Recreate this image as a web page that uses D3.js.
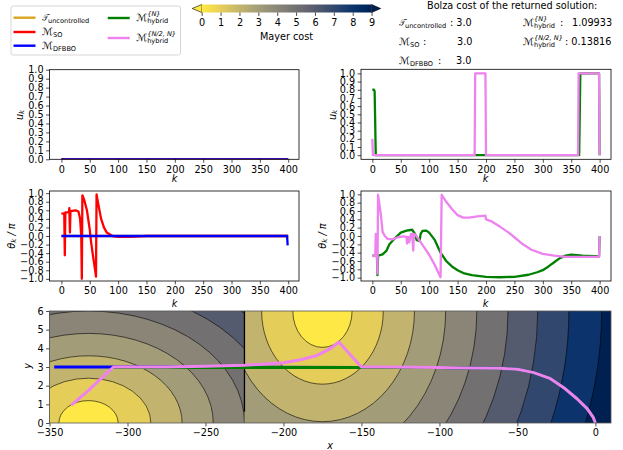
<!DOCTYPE html>
<meta charset="utf-8">
<style>
  html, body { margin: 0; padding: 0; background: #fff; }
  text { font-family: "DejaVu Sans", sans-serif; fill: #000; }
  .tick text { font-size: 9.7px; }
  .domain { display: none; }
  .tick line { stroke: #000; stroke-width: 0.7; }
</style>
<script src="https://cdn.jsdelivr.net/npm/d3@7"></script>
<div id="my_dataviz"></div>

<script>
// tick labels
var kTicks = [0, 50, 100, 150, 200, 250, 300, 350, 400];
var uTicks = [0, 0.1, 0.2, 0.3, 0.4, 0.5, 0.6, 0.7, 0.8, 0.9, 1];
var thetaTicks = [-1, -0.8, -0.6, -0.4, -0.2, 0, 0.2, 0.4, 0.6, 0.8, 1];
var xTicks = [-350, -300, -250, -200, -150, -100, -50, 0];
var yTicks = [0, 1, 2, 3, 4, 5, 6];
var costTicks = [0, 1, 2, 3, 4, 5, 6, 7, 8, 9];

// controls, [k, value]
var uncontrolledU = [[0, 0], [400, 0]];
var soU = [[0, 0], [400, 0]];
var dfbboU = [[0, 0], [400, 0]];
var hybridNU = [[0, 0.8], [3, 0.8], [4, 0.78], [6, 0], [180, 0], [200, 0], [364, 0], [366, 1], [399, 1], [400, 0]];
var hybridN2U = [[0, 0.2], [1, 0], [180, 0], [181, 1], [199, 1], [200, 0], [362, 0], [363, 1], [399, 1], [400, 0]];

// headings, [k, value]
var uncontrolledTheta = [[0, 0], [400, 0]];
var soTheta = [[0, 0.52], [5, 0.53], [6, -0.45], [7, 0.55], [13, 0.55], [14, 0.65], [15, 0.08], [16, 0.58], [25, 0.6],
  [30, 0.57], [33, 0.4], [35, 0], [36, -1], [37, 0.95], [40, 0.85], [45, 0.6], [50, 0.15], [52, -0.1], [55, -0.4],
  [60, -0.85], [61, -0.95], [62, 0.97], [65, 0.75], [70, 0.4], [75, 0.2], [80, 0.08], [90, 0], [100, -0.02],
  [120, -0.02], [140, -0.01], [150, 0], [400, 0]];
var dfbboTheta = [[0, 0], [398, 0], [399, -0.22]];
var hybridNTheta = [[0, -0.47], [8, -0.47], [9, -0.94], [10, -0.47], [18, -0.44], [25, -0.35], [30, -0.2], [40, -0.05],
  [50, 0.08], [60, 0.13], [70, 0.15], [75, 0.05], [78, -0.1], [83, -0.12], [85, 0.05], [88, 0.12], [95, 0.13],
  [100, 0.08], [110, -0.1], [120, -0.4], [130, -0.6], [140, -0.73], [150, -0.82], [160, -0.89], [175, -0.94],
  [200, -0.98], [225, -0.99], [250, -0.98], [275, -0.93], [290, -0.87], [300, -0.82], [310, -0.73], [320, -0.63],
  [330, -0.53], [340, -0.47], [350, -0.45], [370, -0.47], [399, -0.49], [400, 0]];
var hybridN2Theta = [[0, -0.48], [5, -0.48], [6, 0.05], [7, -0.47], [8, -0.1], [9, -0.9], [10, 0.99], [12, 0.8],
  [15, 0.5], [18, 0.1], [22, 0], [27, -0.07], [35, -0.08], [45, -0.03], [55, -0.01], [60, -0.02], [61, -0.18],
  [63, -0.02], [65, -0.15], [68, 0.05], [70, 0.05], [72, -0.35], [73, 0.05], [76, 0.03], [80, -0.05], [90, -0.25],
  [100, -0.45], [110, -0.7], [120, -0.99], [122, 0.99], [130, 0.82], [140, 0.65], [150, 0.5], [160, 0.44], [170, 0.44],
  [185, 0.47], [199, 0.49], [200, 0.4], [210, 0.35], [225, 0.22], [240, 0.08], [250, -0.03], [265, -0.2], [280, -0.33],
  [300, -0.43], [320, -0.47], [340, -0.5], [370, -0.5], [399, -0.5], [400, 0]];

// trajectories, [x, y]
var landingPath = [[-150, 2.97], [-100, 2.97], [-82, 2.95], [-61, 2.93], [-50, 2.875], [-39.5, 2.7], [-28.8, 2.375], [-20.3, 1.89], [-11.8, 1.3], [-5.3, 0.77], [-1.5, 0.32], [0, 0]];
var dfbboPath = [[-347, 3], [-309, 3]].concat(landingPath);
var hybridNPath = [[-309, 2.97], [-225, 2.97]].concat(landingPath);
var hybridN2Path = [[-336, 0.96], [-325, 1.75], [-318, 2.3], [-309, 3], [-275, 3], [-250, 3.04], [-225, 3.09], [-200, 3.23], [-189, 3.39],
  [-178.4, 3.62], [-170, 3.98], [-164.5, 4.34], [-150, 3], [-135, 3]].concat(landingPath.slice(1));

// Mayer cost contours: semi axes for levels 1, 2, ...
var leftCentre = [-325, 0];
var leftRx = [19, 40, 60, 80, 100, 120, 140];
var leftRy = [1.2, 2.4, 3.6, 4.8, 6, 7.2, 8.4];
var rightCentre = [-175, 6];
var rightRx = [19, 39, 59, 79, 99, 119, 138, 158, 179];
var rightRy = [1.95, 3.92, 5.93, 7.97, 10, 12, 14, 16, 17.8];

var legendItems = [
  {sym: "𝒯", sub: "uncontrolled", color: "#DAA520"},
  {sym: "ℳ", sub: "SO", color: "red"},
  {sym: "ℳ", sub: "DFBBO", color: "blue"},
  {sym: "ℳ", sub: "hybrid", sup: "{N}", color: "green"},
  {sym: "ℳ", sub: "hybrid", sup: "{N/2, N}", color: "violet"}
];

var svg = d3.select("#my_dataviz").append("svg")
  .attr("width", 623).attr("height", 450)
  .style("display", "block");

var cost = function(t) { return d3.interpolateCividis(1 - t / 9); };
var clipCount = 0;

// draws a label like T_uncontrolled or M^{N}_hybrid
function mathLabel(x, y, d) {
  var isT = d.sym === "𝒯";
  var subX = x + (isT ? 6 : 11);
  var s = svg.append("text").attr("x", x).attr("y", y).style("font-size", "10px")
    .style("font-family", "'DejaVu Serif', 'DejaVu Sans'").style("font-style", "italic").text(d.sym);
  if (isT) s.attr("textLength", 6).attr("lengthAdjust", "spacingAndGlyphs");
  svg.append("text").attr("x", subX).attr("y", y + 2.4).style("font-size", "6.6px").text(d.sub);
  if (d.sup) {
    svg.append("text").attr("x", subX).attr("y", y - 5).style("font-size", "6.6px").style("font-style", "italic").text(d.sup);
  }
}

function makeAxes(box, xDomain, yDomain, xVals, yVals, yFormat) {
  var x = d3.scaleLinear().domain(xDomain).range([box.x0, box.x1]);
  var y = d3.scaleLinear().domain(yDomain).range([box.y1, box.y0]);
  var id = "clip" + (clipCount++);
  svg.append("clipPath").attr("id", id).append("rect")
    .attr("x", box.x0).attr("y", box.y0).attr("width", box.x1 - box.x0).attr("height", box.y1 - box.y0);
  var g = svg.append("g").attr("clip-path", "url(#" + id + ")");
  var finish = function() {
    svg.append("g").attr("transform", "translate(0," + box.y1 + ")")
      .call(d3.axisBottom(x).tickValues(xVals).tickFormat(function(d) { return d3.format("d")(d).replace("-", "\u2212"); }).tickSize(3.4).tickPadding(3));
    svg.append("g").attr("transform", "translate(" + box.x0 + ",0)")
      .call(d3.axisLeft(y).tickValues(yVals).tickFormat(function(d) { return d3.format(yFormat)(d).replace("-", "\u2212"); }).tickSize(3.4).tickPadding(2.5));
    svg.append("rect").attr("x", box.x0).attr("y", box.y0)
      .attr("width", box.x1 - box.x0).attr("height", box.y1 - box.y0)
      .attr("fill", "none").attr("stroke", box.frame || "#000").attr("stroke-width", 0.8);
  };
  return {x: x, y: y, g: g, finish: finish};
}

function addLine(ax, data, color, w) {
  ax.g.append("path").datum(data)
    .attr("fill", "none").attr("stroke", color).attr("stroke-width", w).attr("stroke-linejoin", "round")
    .attr("d", d3.line().x(function(d) { return ax.x(d[0]); }).y(function(d) { return ax.y(d[1]); }));
}

function axisText(x, y, str, rotate) {
  var t = svg.append("text").attr("text-anchor", "middle").style("font-size", "9.7px").style("font-style", "italic").text(str);
  if (rotate) t.attr("transform", "translate(" + x + "," + y + ") rotate(-90)");
  else t.attr("x", x).attr("y", y);
  return t;
}

// ---- control panels
var axUL = makeAxes({x0: 49.5, x1: 299, y0: 69.7, y1: 159.3}, [-21, 419], [0, 1], kTicks, uTicks, ".1f");
addLine(axUL, uncontrolledU, "#DAA520", 2.3);
addLine(axUL, soU, "red", 2.3);
addLine(axUL, dfbboU, "blue", 2.3);
axUL.finish();

var axUR = makeAxes({x0: 361, x1: 611, y0: 69.3, y1: 159.3}, [-20, 420], [-0.05, 1.05], kTicks, uTicks, ".1f");
addLine(axUR, hybridNU, "green", 2.3);
addLine(axUR, hybridN2U, "violet", 2.3);
axUR.finish();

// ---- heading panels
var axML = makeAxes({x0: 49.5, x1: 299, y0: 191, y1: 281}, [-21, 419], [-1.05, 1.05], kTicks, thetaTicks, ".1f");
addLine(axML, uncontrolledTheta, "#DAA520", 2.3);
addLine(axML, soTheta, "red", 2.3);
addLine(axML, dfbboTheta, "blue", 2.3);
axML.finish();

var axMR = makeAxes({x0: 361, x1: 611, y0: 191, y1: 281}, [-20, 420], [-1.08, 1.08], kTicks, thetaTicks, ".1f");
addLine(axMR, hybridNTheta, "green", 2.3);
addLine(axMR, hybridN2Theta, "violet", 2.3);
axMR.finish();

// ---- map
var axMap = makeAxes({x0: 49.5, x1: 611, y0: 311, y1: 423, frame: "#555"}, [-350, 10], [0, 6], xTicks, yTicks, "d");

var mapLeft = axMap.g.append("g");
var leftW = axMap.x(-225) - axMap.x(-350);
var boxH = axMap.y(0) - axMap.y(6);
svg.append("clipPath").attr("id", "mapLeftClip").append("rect")
  .attr("x", axMap.x(-350)).attr("y", axMap.y(6)).attr("width", leftW).attr("height", boxH);
mapLeft.attr("clip-path", "url(#mapLeftClip)");
mapLeft.append("rect").attr("x", axMap.x(-350)).attr("y", axMap.y(6)).attr("width", leftW).attr("height", boxH)
  .attr("fill", cost(leftRx.length + 0.05));

var mapRight = axMap.g.append("g");
svg.append("clipPath").attr("id", "mapRightClip").append("rect")
  .attr("x", axMap.x(-225)).attr("y", axMap.y(6)).attr("width", axMap.x(10) - axMap.x(-225)).attr("height", boxH);
mapRight.attr("clip-path", "url(#mapRightClip)");
mapRight.append("rect").attr("x", axMap.x(-225)).attr("y", axMap.y(6)).attr("width", axMap.x(10) - axMap.x(-225)).attr("height", boxH)
  .attr("fill", cost(9));

function drawBands(g, centre, rxs, rys) {
  d3.range(rxs.length - 1, -1, -1).forEach(function(i) {
    g.append("ellipse")
      .attr("cx", axMap.x(centre[0])).attr("cy", axMap.y(centre[1]))
      .attr("rx", axMap.x(centre[0] + rxs[i]) - axMap.x(centre[0]))
      .attr("ry", axMap.y(centre[1] - rys[i]) - axMap.y(centre[1]))
      .attr("fill", cost(i + 0.05))
      .attr("stroke", "#000").attr("stroke-opacity", 0.85).attr("stroke-width", 0.7);
  });
}
drawBands(mapLeft, leftCentre, leftRx, leftRy);
drawBands(mapRight, rightCentre, rightRx, rightRy);

// the cost jump at x = -225 packs the contour lines into a dark wall
axMap.g.append("line")
  .attr("x1", axMap.x(-225)).attr("x2", axMap.x(-225)).attr("y1", axMap.y(6)).attr("y2", axMap.y(0.6))
  .attr("stroke", "#000").attr("stroke-width", 1.3);
axMap.g.append("line")
  .attr("x1", axMap.x(-225)).attr("x2", axMap.x(-225)).attr("y1", axMap.y(0.6)).attr("y2", axMap.y(0))
  .attr("stroke", "#6b6646").attr("stroke-width", 1);

addLine(axMap, dfbboPath, "blue", 3);
addLine(axMap, hybridNPath, "green", 3);
addLine(axMap, hybridN2Path, "violet", 3);
axMap.finish();

// ---- axis labels
axisText(174.5, 182, "k");
axisText(485.5, 182, "k");
axisText(174.5, 307, "k");
axisText(485.5, 307, "k");
axisText(330, 449, "x");
axisText(31, 366, "y", true);

function subLabel(x, y, main, sub) {
  var t = svg.append("text").attr("transform", "translate(" + x + "," + y + ") rotate(-90)")
    .attr("text-anchor", "middle").style("font-size", "9.7px").style("font-style", "italic");
  t.append("tspan").text(main[0]);
  t.append("tspan").attr("dy", 1.8).style("font-size", "7px").text(sub);
  if (main[1]) t.append("tspan").attr("dy", -1.8).text(main[1]);
}
subLabel(22.5, 115, ["u"], "k");
subLabel(335.5, 115, ["u"], "k");
subLabel(14.5, 236, ["θ", " / π"], "k");
subLabel(325.5, 236, ["θ", " / π"], "k");

// ---- legend
svg.append("rect").attr("x", 11).attr("y", 6).attr("width", 169.5).attr("height", 49).attr("rx", 2)
  .attr("fill", "#fff").attr("stroke", "#ccc").attr("stroke-width", 0.8);
var handleRows = [[13.5, 17.7], [13.5, 32], [13.5, 45.7], [107.7, 18], [107.7, 38]];
legendItems.forEach(function(d, i) {
  var p = handleRows[i];
  svg.append("line").attr("x1", p[0]).attr("x2", p[0] + 22).attr("y1", p[1]).attr("y2", p[1])
    .attr("stroke", d.color).attr("stroke-width", 2.4);
  mathLabel(p[0] + 28.5, p[1] + 3, d);
});

// ---- colorbar
var cbX = d3.scaleLinear().domain([0, 9]).range([201.7, 371.6]);
var grad = svg.append("defs").append("linearGradient").attr("id", "cb");
d3.range(0, 1.01, 0.05).forEach(function(t) {
  grad.append("stop").attr("offset", t).attr("stop-color", cost(t * 9));
});
svg.append("path").attr("d", "M" + cbX(0) + ",4.5L192.2,8.5L" + cbX(0) + ",12.5Z").attr("fill", cost(0))
  .attr("stroke", "#000").attr("stroke-width", 0.6);
svg.append("path").attr("d", "M" + cbX(9) + ",4.5L380.7,8.5L" + cbX(9) + ",12.5Z").attr("fill", cost(9))
  .attr("stroke", "#000").attr("stroke-width", 0.6);
svg.append("rect").attr("x", cbX(0)).attr("y", 4.5).attr("width", cbX(9) - cbX(0)).attr("height", 8).attr("fill", "url(#cb)");
svg.append("g").attr("transform", "translate(0,12.5)")
  .call(d3.axisBottom(cbX).tickValues(costTicks).tickFormat(d3.format("d")).tickSize(3.4).tickPadding(3));
svg.append("text").attr("x", 286.5).attr("y", 40).attr("text-anchor", "middle").style("font-size", "9.7px").text("Mayer cost");

// ---- Bolza costs
svg.append("text").attr("x", 427).attr("y", 9).style("font-size", "9.7px").text("Bolza cost of the returned solution:");
function costText(x, y, s) {
  svg.append("text").attr("x", x).attr("y", y).style("font-size", "9.7px").text(s);
}
mathLabel(399, 26, legendItems[0]); costText(450, 26, ": 3.0");
mathLabel(399, 45, legendItems[1]); costText(423, 45, ":"); costText(457, 45, "3.0");
mathLabel(399, 64, legendItems[2]); costText(438, 64, ":"); costText(456, 64, "3.0");
mathLabel(523, 26, legendItems[3]); costText(560, 26, ":"); costText(572, 26, "1.09933");
mathLabel(523, 45, legendItems[4]); costText(565, 45, ": 0.13816");
</script>
